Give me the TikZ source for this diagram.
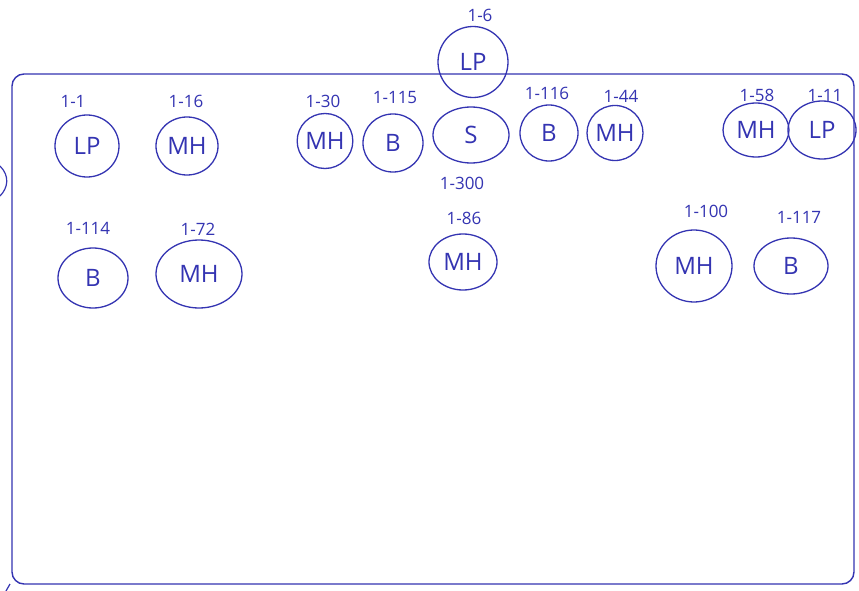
\documentclass[tikz,border=0pt]{standalone}
\usepackage{fontspec}
\setmainfont{Open Sans}
\usetikzlibrary{shapes.geometric}
\definecolor{pen}{RGB}{52,52,178}
\tikzset{
  pin/.style={draw=pen, line width=1.3pt, ellipse, inner sep=0pt, text=pen, font=\fontsize{24}{24}\selectfont},
  tag/.style={text=pen, font=\fontsize{17}{17}\selectfont, inner sep=1pt},
  frame/.style={draw=pen, line width=1.4pt, rounded corners=12pt}
}
\begin{document}
\begin{tikzpicture}[x=1pt,y=-1pt]
\useasboundingbox (0,0) rectangle (859,591);
\fill[white] (0,0) rectangle (859,591);
% frame
\draw[frame] (12,74) rectangle (854,584);
\draw[draw=pen, line width=1.2pt] (0,166) .. controls (10,176) and (8,188) .. (0,196);
\draw[draw=pen, line width=1.2pt] (10,584) -- (6,591);
% row 1
\node[pin, minimum width=64pt, minimum height=62pt] (n1) at (87,146) {LP};
\node[tag] (t1) at (73,101) {1-1};
\node[pin, minimum width=62pt, minimum height=58pt] (n16) at (187,146) {MH};
\node[tag] (t16) at (186,101) {1-16};
\node[pin, minimum width=54pt, minimum height=55pt] (n30) at (325,141) {MH};
\node[tag] (t30) at (323,101) {1-30};
\node[pin, minimum width=60pt, minimum height=58pt] (n115) at (393,143) {B};
\node[tag] (t115) at (395,98) {1-115};
\node[pin, minimum width=70pt, minimum height=71pt] (n6) at (473,62) {LP};
\node[tag] (t6) at (480,15) {1-6};
\node[pin, minimum width=76pt, minimum height=56pt] (n300) at (471,135) {S};
\node[tag] (t300) at (462,183) {1-300};
\node[pin, minimum width=58pt, minimum height=56pt] (n116) at (549,133) {B};
\node[tag] (t116) at (547,93) {1-116};
\node[pin, minimum width=56pt, minimum height=55pt] (n44) at (615,133) {MH};
\node[tag] (t44) at (621,96) {1-44};
\node[pin, minimum width=66pt, minimum height=54pt] (n58) at (756,130) {MH};
\node[tag] (t58) at (757,95) {1-58};
\node[pin, minimum width=68pt, minimum height=58pt] (n11) at (822,130) {LP};
\node[tag] (t11) at (825,95) {1-11};
% row 2
\node[pin, minimum width=70pt, minimum height=60pt] (n114) at (93,278) {B};
\node[tag] (t114) at (88,228) {1-114};
\node[pin, minimum width=86pt, minimum height=68pt] (n72) at (199,274) {MH};
\node[tag] (t72) at (198,229) {1-72};
\node[pin, minimum width=68pt, minimum height=56pt] (n86) at (463,262) {MH};
\node[tag] (t86) at (464,218) {1-86};
\node[pin, minimum width=76pt, minimum height=72pt] (n100) at (694,266) {MH};
\node[tag] (t100) at (706,211) {1-100};
\node[pin, minimum width=74pt, minimum height=56pt] (n117) at (791,266) {B};
\node[tag] (t117) at (799,217) {1-117};
\end{tikzpicture}
\end{document}
